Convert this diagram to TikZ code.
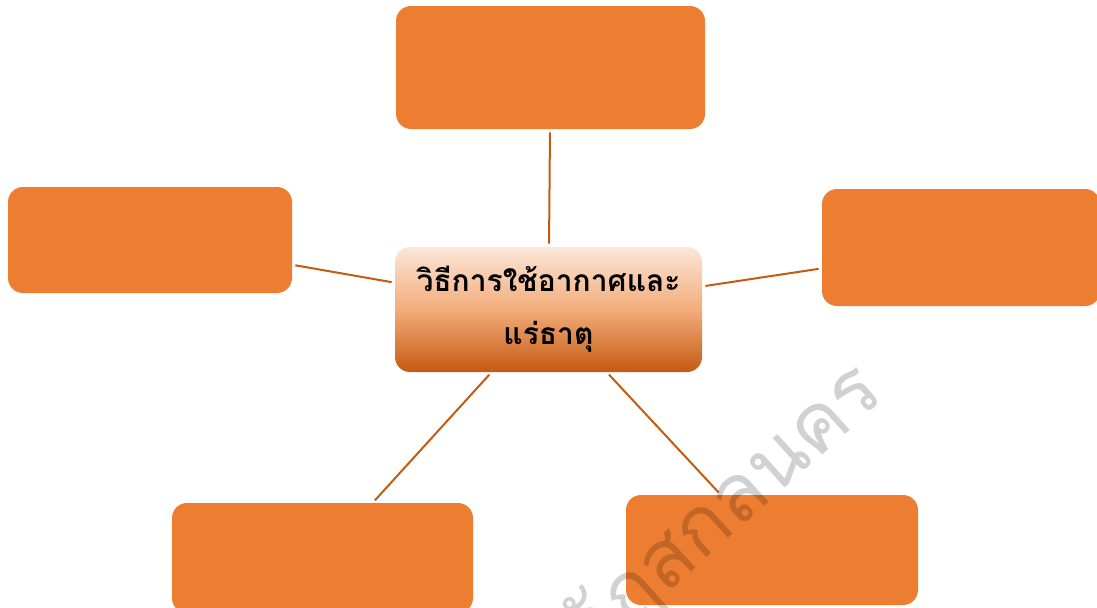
\documentclass[tikz,border=0pt]{standalone}
\usepackage{fontspec}
\newfontfamily\thaifont[Script=Thai]{Loma}
\usetikzlibrary{positioning}

\definecolor{leaforange}{RGB}{237,125,49}
\definecolor{linkbrown}{RGB}{197,90,17}
\definecolor{hubtop}{RGB}{252,231,217}
\definecolor{hubmid}{RGB}{242,172,122}
\definecolor{hubbottom}{RGB}{197,90,17}

\tikzset{
    leaf/.style={rectangle, rounded corners=7.5pt, fill=leaforange, inner sep=0pt},
    hub/.style={rectangle, rounded corners=7.5pt, inner sep=0pt,
        top color=hubtop, bottom color=hubbottom, middle color=hubmid,
        minimum width=153.5pt, minimum height=62.5pt, align=center,
        font=\thaifont\bfseries\fontsize{15}{26.5}\selectfont},
    link/.style={draw=linkbrown, line width=1pt, shorten >=1.5pt, shorten <=1.5pt}
}

\begin{document}
\begin{tikzpicture}[x=0.5pt, y=-0.5pt]
\useasboundingbox (0,0) rectangle (1097,607);

\node[hub] (hub) at (548.5,309.5) {วิธีการใช้อากาศและ\\แร่ธาตุ};

\node[leaf, minimum width=154.5pt, minimum height=61.5pt] (top) at (550.5,67.5) {};
\node[leaf, minimum width=142pt, minimum height=53pt] (left) at (150,240) {};
\node[leaf, minimum width=139pt, minimum height=58.5pt] (right) at (961,247.5) {};
\node[leaf, minimum width=150.5pt, minimum height=55pt] (lowleft) at (322.5,558) {};
\node[leaf, minimum width=146pt, minimum height=55pt] (lowright) at (772,550) {};

\foreach \leafname in {top, left, right, lowleft, lowright} {
    \draw[link] (hub) -- (\leafname);
}

% watermark
\node[rotate=42, anchor=east, text=black, opacity=0.18,
      font=\thaifont\fontsize{40}{44}\selectfont] (wmark) at (876,374) {ราชภัฏสกลนคร};
\end{tikzpicture}
\end{document}
